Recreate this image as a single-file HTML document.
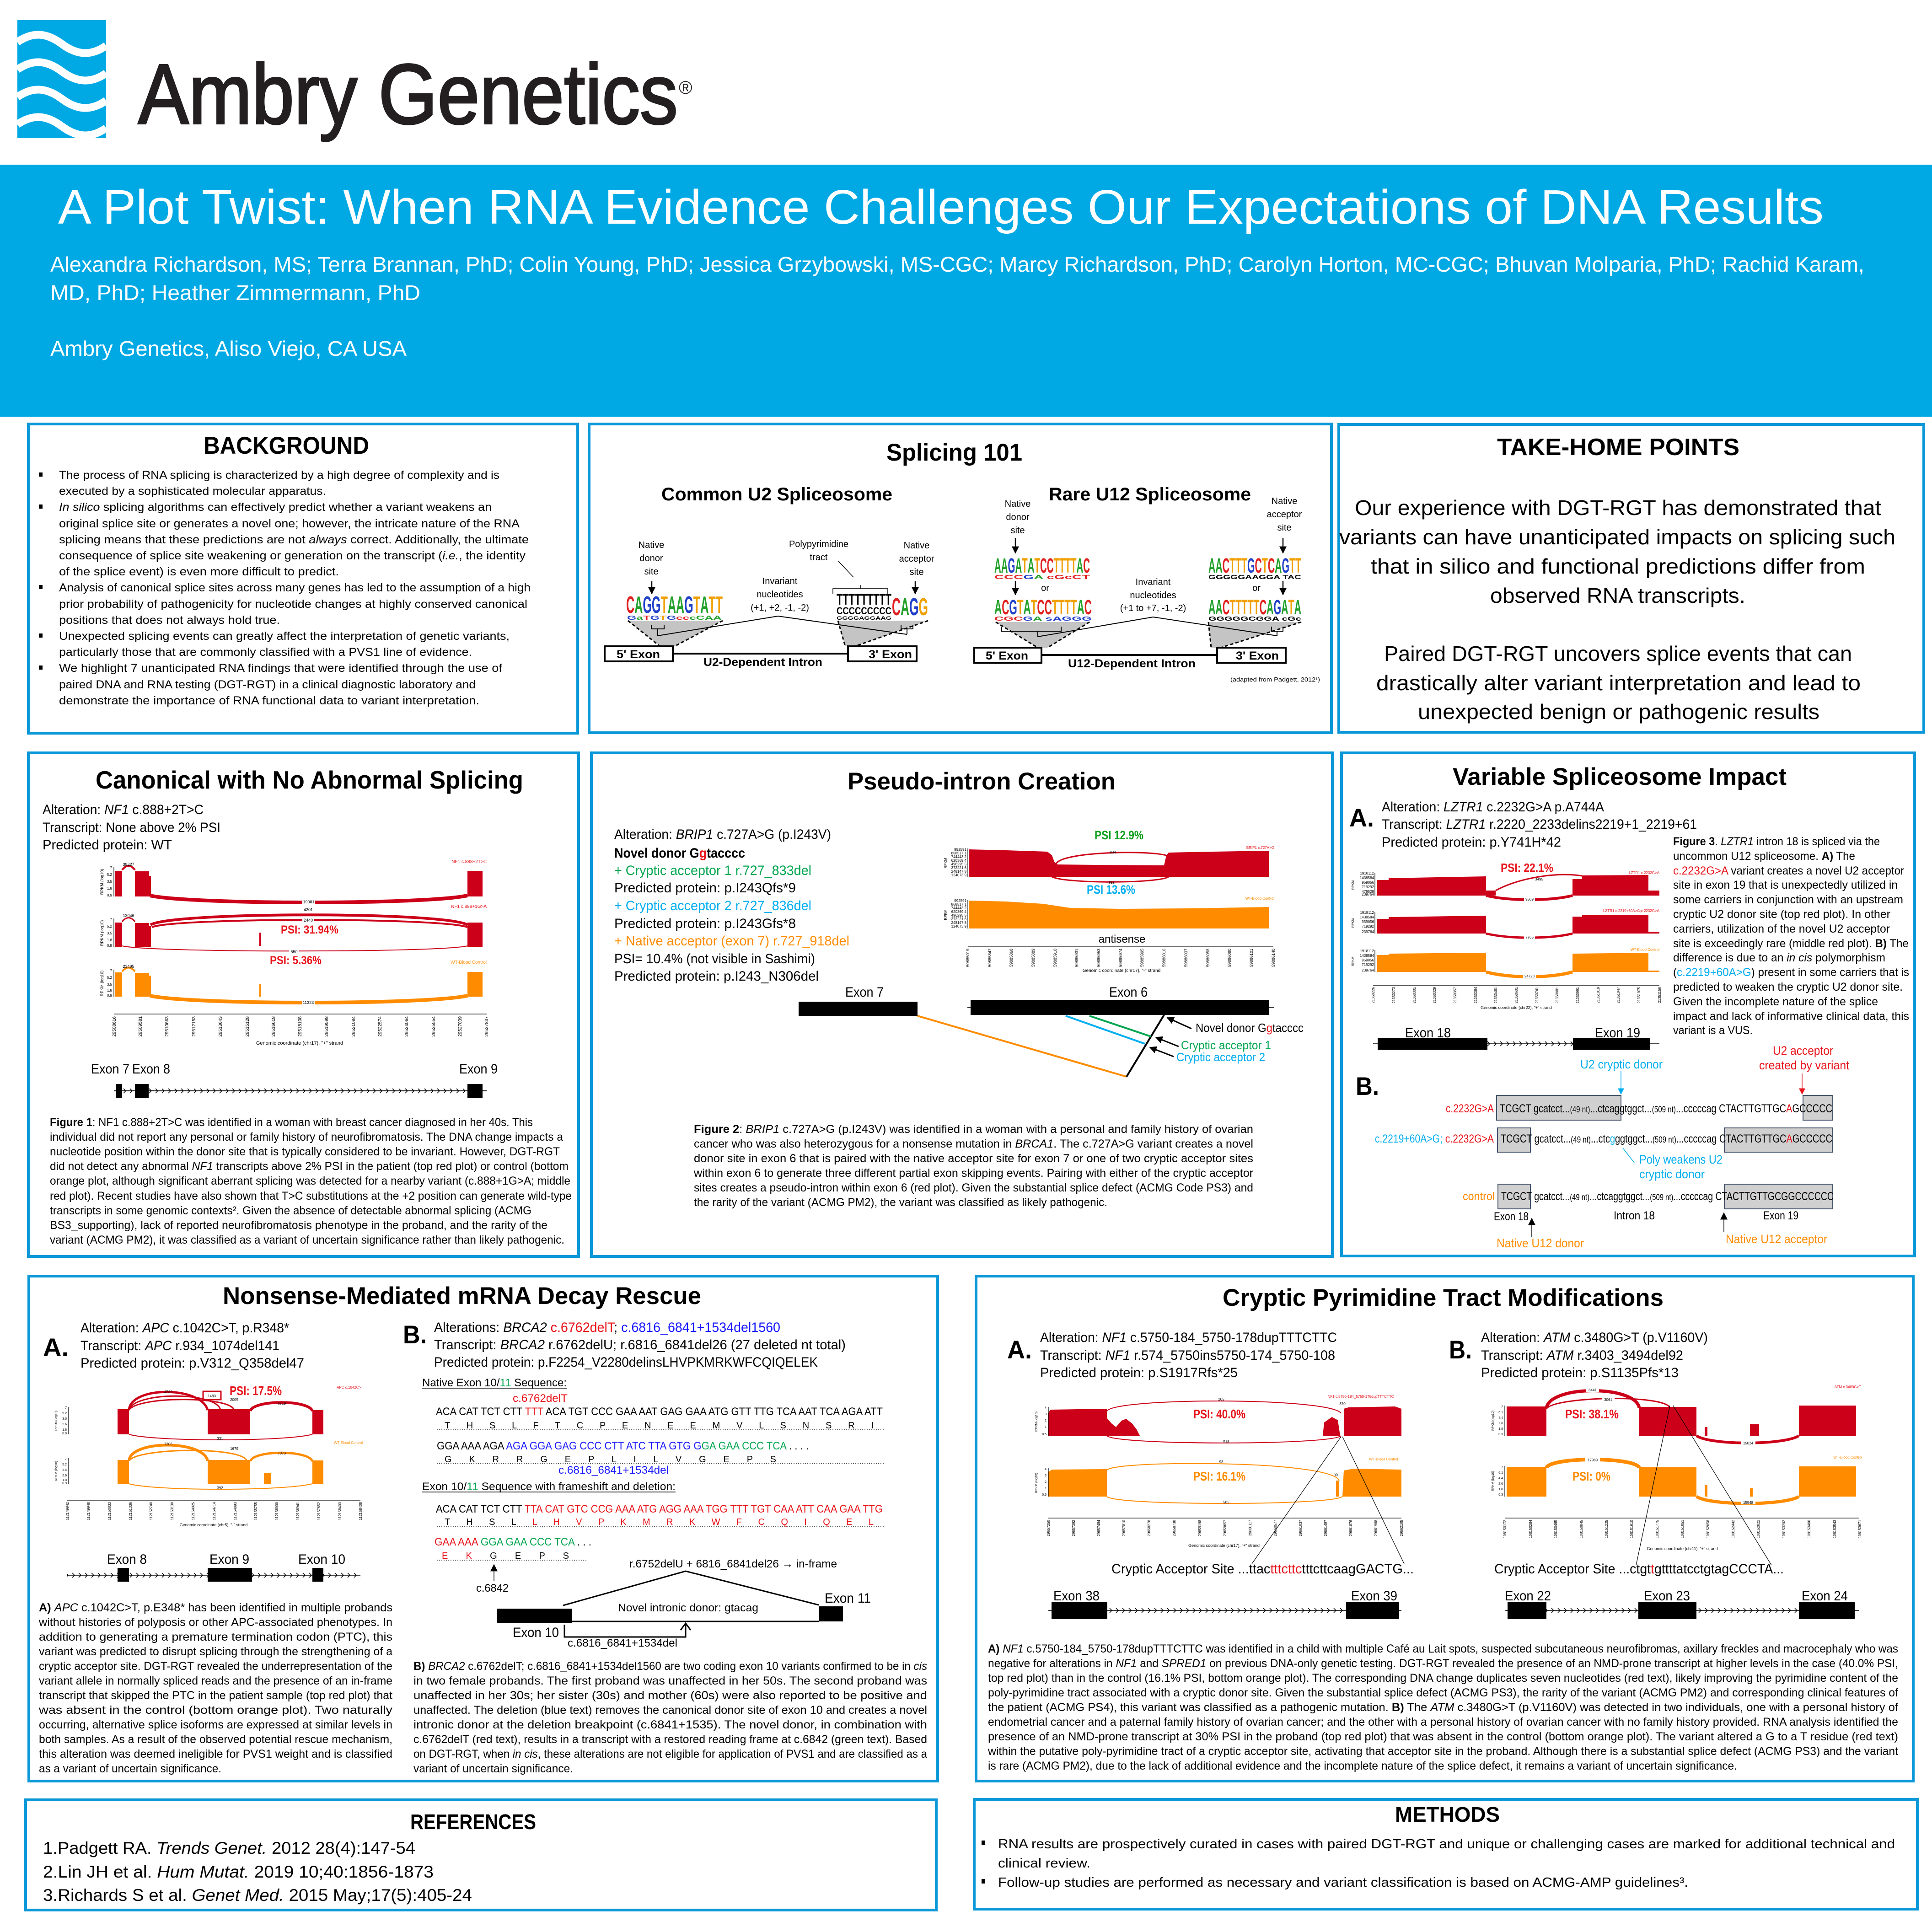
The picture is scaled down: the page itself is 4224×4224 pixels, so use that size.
<!DOCTYPE html>
<html><head><meta charset="utf-8">
<style>
html,body{margin:0;padding:0;background:#fff;overflow:hidden;width:4224px;height:4224px;}
svg{display:block;}
text{font-family:"Liberation Sans",Arial,sans-serif;fill:#000;}
.b{font-weight:bold;}
.i{font-style:italic;}
.w{fill:#fff;}
.r{fill:#cc0018;}
.o{fill:#ff8c00;}
.tr{fill:#e8141b;}
.tg{fill:#00a650;}
.tb{fill:#00aeef;}
.tB{fill:#1a1aff;}
.tk{font-size:9px;}
</style></head>
<body>
<svg xmlns="http://www.w3.org/2000/svg" width="4224" height="4224" viewBox="0 0 4224 4224">
<defs>
<pattern id="cv1" x="0" y="2379" width="14" height="12" patternUnits="userSpaceOnUse"><path d="M4,1 L9,6 L4,11" fill="none" stroke="#000" stroke-width="1.5"/></pattern>
<pattern id="cv2" x="0" y="2276" width="14" height="12" patternUnits="userSpaceOnUse"><path d="M4,1 L9,6 L4,11" fill="none" stroke="#000" stroke-width="1.5"/></pattern>
<pattern id="cv3" x="0" y="3438" width="14" height="12" patternUnits="userSpaceOnUse"><path d="M4,1 L9,6 L4,11" fill="none" stroke="#000" stroke-width="1.5"/></pattern>
<pattern id="cv4" x="0" y="3515" width="14" height="12" patternUnits="userSpaceOnUse"><path d="M4,1 L9,6 L4,11" fill="none" stroke="#000" stroke-width="1.5"/></pattern>
<marker id="ak" viewBox="0 0 10 10" refX="9" refY="5" markerWidth="16" markerHeight="16" markerUnits="userSpaceOnUse" orient="auto"><path d="M0,0 L10,5 L0,10 z" fill="#000"/></marker>
<marker id="ab" viewBox="0 0 10 10" refX="9" refY="5" markerWidth="14" markerHeight="14" markerUnits="userSpaceOnUse" orient="auto"><path d="M0,0 L10,5 L0,10 z" fill="#00aeef"/></marker>
<marker id="ar" viewBox="0 0 10 10" refX="9" refY="5" markerWidth="14" markerHeight="14" markerUnits="userSpaceOnUse" orient="auto"><path d="M0,0 L10,5 L0,10 z" fill="#e8141b"/></marker>
</defs>

<rect x="0" y="0" width="4224" height="4224" fill="#fff"/>

<!-- ===== HEADER ===== -->
<rect x="38" y="44" width="194" height="258" fill="#00a9e4"/>
<g fill="none" stroke="#fff" stroke-width="17">
<path d="M38,92 C70,70 100,70 135,96 S200,122 232,100"/>
<path d="M38,152 C70,130 100,130 135,156 S200,182 232,160"/>
<path d="M38,212 C70,190 100,190 135,216 S200,242 232,220"/>
<path d="M38,272 C70,250 100,250 135,276 S200,302 232,280"/>
</g>
<text x="302" y="270" font-size="186" style="fill:#231f20" stroke="#231f20" stroke-width="4" textLength="1180" lengthAdjust="spacingAndGlyphs">Ambry Genetics</text>
<text x="1484" y="205" font-size="40" style="fill:#231f20">®</text>

<rect x="0" y="360" width="4224" height="551" fill="#00a9e4"/>
<text class="w" x="127" y="489" font-size="106" textLength="3860" lengthAdjust="spacingAndGlyphs">A Plot Twist: When RNA Evidence Challenges Our Expectations of DNA Results</text>
<text class="w" x="110" y="594" font-size="46" textLength="3966" lengthAdjust="spacingAndGlyphs">Alexandra Richardson, MS; Terra Brannan, PhD; Colin Young, PhD; Jessica Grzybowski, MS-CGC; Marcy Richardson, PhD; Carolyn Horton, MC-CGC; Bhuvan Molparia, PhD; Rachid Karam,</text>
<text class="w" x="110" y="656" font-size="46" textLength="809" lengthAdjust="spacingAndGlyphs">MD, PhD; Heather Zimmermann, PhD</text>
<text class="w" x="110" y="778" font-size="46" textLength="779" lengthAdjust="spacingAndGlyphs">Ambry Genetics, Aliso Viejo, CA USA</text>

<!-- ===== PANEL BORDERS ===== -->
<g fill="none" stroke="#0a98d8" stroke-width="6">
<rect x="62" y="927" width="1201" height="676"/>
<rect x="1288" y="927" width="1623" height="675"/>
<rect x="2927" y="928" width="1279" height="673"/>
<rect x="62" y="1646" width="1203" height="1101"/>
<rect x="1293" y="1646" width="1620" height="1101"/>
<rect x="2933" y="1646" width="1253" height="1100"/>
<rect x="63" y="2790" width="1987" height="1104"/>
<rect x="2134" y="2790" width="2049" height="1104"/>
<rect x="56" y="3935" width="1991" height="241"/>
<rect x="2130" y="3934" width="2062" height="240"/>
</g>

<!-- ===== BACKGROUND ===== -->
<text class="b" x="445" y="992" font-size="53" textLength="362" lengthAdjust="spacingAndGlyphs">BACKGROUND</text>
<g fill="#000">
<rect x="85" y="1033" width="8" height="9"/>
<rect x="85" y="1103" width="8" height="9"/>
<rect x="85" y="1279" width="8" height="9"/>
<rect x="85" y="1385" width="8" height="9"/>
<rect x="85" y="1455" width="8" height="9"/>
</g>
<g font-size="25">
<text x="129" y="1047" textLength="963" lengthAdjust="spacingAndGlyphs">The process of RNA splicing is characterized by a high degree of complexity and is</text>
<text x="129" y="1082" textLength="584" lengthAdjust="spacingAndGlyphs">executed by a sophisticated molecular apparatus.</text>
<text x="129" y="1117" textLength="946" lengthAdjust="spacingAndGlyphs"><tspan class="i">In silico</tspan> splicing algorithms can effectively predict whether a variant weakens an</text>
<text x="129" y="1153" textLength="1007" lengthAdjust="spacingAndGlyphs">original splice site or generates a novel one; however, the intricate nature of the RNA</text>
<text x="129" y="1188" textLength="1027" lengthAdjust="spacingAndGlyphs">splicing means that these predictions are not <tspan class="i">always</tspan> correct. Additionally, the ultimate</text>
<text x="129" y="1223" textLength="1020" lengthAdjust="spacingAndGlyphs">consequence of splice site weakening or generation on the transcript (<tspan class="i">i.e.</tspan>, the identity</text>
<text x="129" y="1258" textLength="612" lengthAdjust="spacingAndGlyphs">of the splice event) is even more difficult to predict.</text>
<text x="129" y="1293" textLength="1031" lengthAdjust="spacingAndGlyphs">Analysis of canonical splice sites across many genes has led to the assumption of a high</text>
<text x="129" y="1329" textLength="1024" lengthAdjust="spacingAndGlyphs">prior probability of pathogenicity for nucleotide changes at highly conserved canonical</text>
<text x="129" y="1364" textLength="483" lengthAdjust="spacingAndGlyphs">positions that does not always hold true.</text>
<text x="129" y="1399" textLength="985" lengthAdjust="spacingAndGlyphs">Unexpected splicing events can greatly affect the interpretation of genetic variants,</text>
<text x="129" y="1434" textLength="903" lengthAdjust="spacingAndGlyphs">particularly those that are commonly classified with a PVS1 line of evidence.</text>
<text x="129" y="1469" textLength="969" lengthAdjust="spacingAndGlyphs">We highlight 7 unanticipated RNA findings that were identified through the use of</text>
<text x="129" y="1505" textLength="911" lengthAdjust="spacingAndGlyphs">paired DNA and RNA testing (DGT-RGT) in a clinical diagnostic laboratory and</text>
<text x="129" y="1540" textLength="919" lengthAdjust="spacingAndGlyphs">demonstrate the importance of RNA functional data to variant interpretation.</text>
</g>

<!-- ===== SPLICING 101 ===== -->
<text class="b" x="1938" y="1007" font-size="53" textLength="297" lengthAdjust="spacingAndGlyphs">Splicing 101</text>
<text class="b" x="1446" y="1094" font-size="40" textLength="505" lengthAdjust="spacingAndGlyphs">Common U2 Spliceosome</text>
<text class="b" x="2293" y="1094" font-size="40" textLength="442" lengthAdjust="spacingAndGlyphs">Rare U12 Spliceosome</text>
<g font-size="20" text-anchor="middle">
<text x="1424" y="1198">Native</text><text x="1424" y="1227">donor</text><text x="1424" y="1256">site</text>
<text x="1790" y="1196">Polypyrimidine</text><text x="1790" y="1225">tract</text>
<text x="2004" y="1199">Native</text><text x="2004" y="1228">acceptor</text><text x="2004" y="1257">site</text>
<text x="1705" y="1277">Invariant</text><text x="1705" y="1306">nucleotides</text><text x="1705" y="1335">(+1, +2, -1, -2)</text>
<text x="2225" y="1108">Native</text><text x="2225" y="1137">donor</text><text x="2225" y="1166">site</text>
<text x="2808" y="1102">Native</text><text x="2808" y="1131">acceptor</text><text x="2808" y="1160">site</text>
<text x="2521" y="1279">Invariant</text><text x="2521" y="1308">nucleotides</text><text x="2521" y="1336">(+1 to +7, -1, -2)</text>
<text x="2285" y="1292">or</text><text x="2747" y="1292">or</text>
</g>
<g stroke="#000" stroke-width="2.5" fill="none">
<line x1="1425" y1="1271" x2="1425" y2="1298" marker-end="url(#ak)"/>
<line x1="2001" y1="1271" x2="2001" y2="1298" marker-end="url(#ak)"/>
<line x1="1833" y1="1227" x2="1866" y2="1262" stroke-width="1.5"/>
<path d="M1821,1298 L1821,1287 L1941,1287 L1941,1298 M1881,1287 L1881,1279" stroke-width="1.5"/>
<line x1="2220" y1="1176" x2="2220" y2="1209" marker-end="url(#ak)"/>
<line x1="2220" y1="1270" x2="2220" y2="1300" marker-end="url(#ak)"/>
<line x1="2805" y1="1176" x2="2805" y2="1209" marker-end="url(#ak)"/>
<line x1="2805" y1="1270" x2="2805" y2="1300" marker-end="url(#ak)"/>
</g>
<g fill="#c4c4c4">
<polygon points="1373,1357 1580,1357 1475,1413 1443,1413"/>
<polygon points="1832,1357 2029,1357 1869,1413 1848,1413"/>
<polygon points="2177,1360 2382,1360 2290,1416 2269,1416"/>
<polygon points="2642,1360 2845,1360 2669,1416 2648,1416"/>
</g>
<g stroke="#000" stroke-width="3" stroke-dasharray="7,5" fill="none">
<line x1="1373" y1="1357" x2="1443" y2="1413"/><line x1="1580" y1="1357" x2="1475" y2="1413"/>
<line x1="1832" y1="1357" x2="1848" y2="1413"/><line x1="2029" y1="1357" x2="1869" y2="1413"/>
<line x1="2177" y1="1360" x2="2269" y2="1416"/><line x1="2382" y1="1360" x2="2290" y2="1416"/>
<line x1="2642" y1="1360" x2="2648" y2="1416"/><line x1="2845" y1="1360" x2="2669" y2="1416"/>
</g>
<g stroke="#000" stroke-width="2" fill="none">
<polyline points="1438,1390 1701,1347 1983,1387"/>
<polyline points="2269,1392 2521,1349 2792,1390"/>
<path d="M1424,1367 L1424,1375 L1438,1375 L1438,1390 M1438,1375 L1452,1375 L1452,1367"/>
<path d="M1970,1367 L1970,1375 L1983,1375 L1983,1387 M1983,1375 L1996,1375 L1996,1367"/>
<path d="M2190,1370 L2190,1380 L2269,1380 L2269,1392 M2269,1380 L2320,1380 L2320,1370"/>
<path d="M2780,1370 L2780,1380 L2792,1380 L2792,1390 M2792,1380 L2805,1380 L2805,1370"/>
</g>
<g font-weight="bold">
<g transform="translate(1369,1340) scale(1,1.3)"><text font-size="40" textLength="211" lengthAdjust="spacingAndGlyphs"><tspan fill="#e02020">C</tspan><tspan fill="#22a02a">A</tspan><tspan fill="#2040c8">GG</tspan><tspan fill="#f0a000">T</tspan><tspan fill="#22a02a">AA</tspan><tspan fill="#2040c8">G</tspan><tspan fill="#f0a000">T</tspan><tspan fill="#22a02a">A</tspan><tspan fill="#f0a000">TT</tspan></text></g>
<text x="1371" y="1355" font-size="13" textLength="207" lengthAdjust="spacingAndGlyphs"><tspan fill="#2040c8">G</tspan><tspan fill="#22a02a">a</tspan><tspan fill="#e02020">T</tspan><tspan fill="#2040c8">G</tspan><tspan fill="#f0a000">T</tspan><tspan fill="#2040c8">G</tspan><tspan fill="#e02020">cc</tspan><tspan fill="#22a02a">cCAA</tspan></text>
<text x="1829" y="1322" font-size="34" textLength="120" lengthAdjust="spacingAndGlyphs" fill="#f0a000">TTTTTTTTT</text>
<text x="1829" y="1343" font-size="22" textLength="120" lengthAdjust="spacingAndGlyphs" fill="#e02020">CCCCCCCCC</text>
<text x="1829" y="1355" font-size="11" textLength="120" lengthAdjust="spacingAndGlyphs" fill="#2040c8">GGGGAGGAAG</text>
<g transform="translate(1950,1345) scale(1,1.35)"><text font-size="40" textLength="79" lengthAdjust="spacingAndGlyphs"><tspan fill="#e02020">C</tspan><tspan fill="#22a02a">A</tspan><tspan fill="#2040c8">G</tspan><tspan fill="#f0a000">G</tspan></text></g>
<g transform="translate(2174,1252) scale(1,1.2)"><text font-size="38" textLength="209" lengthAdjust="spacingAndGlyphs"><tspan fill="#22a02a">AA</tspan><tspan fill="#2040c8">G</tspan><tspan fill="#22a02a">A</tspan><tspan fill="#f0a000">T</tspan><tspan fill="#22a02a">A</tspan><tspan fill="#f0a000">T</tspan><tspan fill="#e02020">CC</tspan><tspan fill="#f0a000">TTTT</tspan><tspan fill="#22a02a">A</tspan><tspan fill="#e02020">C</tspan></text></g>
<text x="2174" y="1266" font-size="13" textLength="209" lengthAdjust="spacingAndGlyphs"><tspan fill="#e02020">CCC</tspan><tspan fill="#2040c8">G</tspan><tspan fill="#22a02a">A</tspan><tspan fill="#e02020">  cGcCT</tspan></text>
<g transform="translate(2174,1343) scale(1,1.2)"><text font-size="38" textLength="213" lengthAdjust="spacingAndGlyphs"><tspan fill="#22a02a">A</tspan><tspan fill="#e02020">C</tspan><tspan fill="#2040c8">G</tspan><tspan fill="#f0a000">T</tspan><tspan fill="#22a02a">A</tspan><tspan fill="#f0a000">T</tspan><tspan fill="#e02020">CC</tspan><tspan fill="#f0a000">TTTT</tspan><tspan fill="#22a02a">A</tspan><tspan fill="#e02020">C</tspan></text></g>
<text x="2174" y="1357" font-size="13" textLength="213" lengthAdjust="spacingAndGlyphs"><tspan fill="#e02020">CGC</tspan><tspan fill="#2040c8">G</tspan><tspan fill="#22a02a">A</tspan><tspan fill="#2040c8">  sAGGG</tspan></text>
<g transform="translate(2642,1252) scale(1,1.2)"><text font-size="38" textLength="203" lengthAdjust="spacingAndGlyphs"><tspan fill="#22a02a">AA</tspan><tspan fill="#e02020">C</tspan><tspan fill="#f0a000">TTT</tspan><tspan fill="#2040c8">G</tspan><tspan fill="#e02020">C</tspan><tspan fill="#f0a000">T</tspan><tspan fill="#e02020">C</tspan><tspan fill="#22a02a">A</tspan><tspan fill="#2040c8">G</tspan><tspan fill="#f0a000">TT</tspan></text></g>
<text x="2642" y="1266" font-size="13" textLength="203" lengthAdjust="spacingAndGlyphs" fill="#2040c8">GGGGGAAGGA TAC</text>
<g transform="translate(2642,1343) scale(1,1.2)"><text font-size="38" textLength="203" lengthAdjust="spacingAndGlyphs"><tspan fill="#22a02a">AA</tspan><tspan fill="#e02020">C</tspan><tspan fill="#f0a000">TTTTT</tspan><tspan fill="#e02020">C</tspan><tspan fill="#22a02a">A</tspan><tspan fill="#2040c8">G</tspan><tspan fill="#22a02a">A</tspan><tspan fill="#f0a000">T</tspan><tspan fill="#22a02a">A</tspan></text></g>
<text x="2642" y="1357" font-size="13" textLength="203" lengthAdjust="spacingAndGlyphs" fill="#2040c8">GGGGGCGGA  cGc</text>
</g>
<g stroke="#000" stroke-width="4" fill="#fff">
<rect x="1322" y="1413" width="149" height="33"/>
<rect x="1854" y="1413" width="150" height="33"/>
<rect x="2130" y="1416" width="147" height="33"/>
<rect x="2661" y="1416" width="150" height="33"/>
</g>
<g stroke="#000" stroke-width="4">
<line x1="1471" y1="1429" x2="1854" y2="1429"/>
<line x1="2277" y1="1432" x2="2661" y2="1432"/>
</g>
<g class="b" font-size="25">
<text x="1348" y="1439" textLength="95" lengthAdjust="spacingAndGlyphs">5' Exon</text>
<text x="1899" y="1439" textLength="95" lengthAdjust="spacingAndGlyphs">3' Exon</text>
<text x="2155" y="1442" textLength="93" lengthAdjust="spacingAndGlyphs">5' Exon</text>
<text x="2702" y="1442" textLength="94" lengthAdjust="spacingAndGlyphs">3' Exon</text>
<text x="1538" y="1456" textLength="260" lengthAdjust="spacingAndGlyphs">U2-Dependent Intron</text>
<text x="2335" y="1459" textLength="279" lengthAdjust="spacingAndGlyphs">U12-Dependent Intron</text>
</g>
<text x="2690" y="1490" font-size="13" textLength="196" lengthAdjust="spacingAndGlyphs">(adapted from Padgett, 2012¹)</text>

<!-- ===== TAKE-HOME ===== -->
<text class="b" x="3273" y="995" font-size="52" textLength="530" lengthAdjust="spacingAndGlyphs">TAKE-HOME POINTS</text>
<g font-size="46">
<text x="2962" y="1126" textLength="1151" lengthAdjust="spacingAndGlyphs">Our experience with DGT-RGT has demonstrated that</text>
<text x="2928" y="1190" textLength="1216" lengthAdjust="spacingAndGlyphs">variants can have unanticipated impacts on splicing such</text>
<text x="2997" y="1254" textLength="1081" lengthAdjust="spacingAndGlyphs">that in silico and functional predictions differ from</text>
<text x="3258" y="1318" textLength="558" lengthAdjust="spacingAndGlyphs">observed RNA transcripts.</text>
<text x="3026" y="1445" textLength="1023" lengthAdjust="spacingAndGlyphs">Paired DGT-RGT uncovers splice events that can</text>
<text x="3009" y="1509" textLength="1059" lengthAdjust="spacingAndGlyphs">drastically alter variant interpretation and lead to</text>
<text x="3100" y="1572" textLength="878" lengthAdjust="spacingAndGlyphs">unexpected benign or pathogenic results</text>
</g>

<!-- ===== CANONICAL ===== -->
<text class="b" x="209" y="1724" font-size="55" textLength="935" lengthAdjust="spacingAndGlyphs">Canonical with No Abnormal Splicing</text>
<g font-size="30">
<text x="93" y="1780" textLength="352" lengthAdjust="spacingAndGlyphs">Alteration: <tspan class="i">NF1</tspan> c.888+2T&gt;C</text>
<text x="93" y="1819" textLength="389" lengthAdjust="spacingAndGlyphs">Transcript: None above 2% PSI</text>
<text x="93" y="1857" textLength="283" lengthAdjust="spacingAndGlyphs">Predicted protein: WT</text>
</g>
<g fill="#cc0018">
<rect x="252" y="1904" width="15" height="56"/><rect x="295" y="1905" width="31" height="55"/><rect x="326" y="1915" width="4" height="45"/><rect x="1022" y="1904" width="33" height="56"/>
<rect x="252" y="2017" width="15" height="53"/><rect x="295" y="2018" width="31" height="52"/><rect x="326" y="2025" width="4" height="45"/><rect x="1022" y="2017" width="33" height="53"/>
<rect x="567" y="2039" width="4" height="29"/>
</g>
<g fill="#ff8c00">
<rect x="252" y="2126" width="15" height="53"/><rect x="295" y="2127" width="31" height="52"/><rect x="326" y="2133" width="4" height="46"/><rect x="1022" y="2125" width="33" height="54"/>
<rect x="567" y="2151" width="4" height="28"/>
</g>
<g fill="none" stroke="#cc0018">
<path d="M267,1902 Q281,1884 295,1902" stroke-width="4"/>
<path d="M328,1958 C420,1978 930,1978 1022,1958" stroke-width="8"/>
<path d="M267,2015 Q281,1998 295,2015" stroke-width="3"/>
<path d="M329,2022 C380,1993 970,1993 1022,2022" stroke-width="6"/>
<path d="M332,2027 C390,2006 960,2006 1022,2027" stroke-width="4"/>
<path d="M267,2068 C330,2083 960,2083 1022,2068" stroke-width="2"/>
</g>
<g fill="none" stroke="#ff8c00">
<path d="M267,2124 Q281,2107 295,2124" stroke-width="4"/>
<path d="M328,2177 C420,2197 930,2197 1022,2177" stroke-width="8"/>
</g>
<g font-size="9" text-anchor="middle">
<rect x="661" y="1966" width="28" height="11" fill="#fff"/><text x="675" y="1975">19081</text>
<text x="281" y="1893">38327</text><text x="281" y="2005">13046</text><text x="281" y="2116">23495</text>
<rect x="661" y="1983" width="26" height="10" fill="#fff"/><text x="674" y="1992">4201</text>
<rect x="661" y="2006" width="26" height="10" fill="#fff"/><text x="674" y="2015">2440</text>
<rect x="632" y="2076" width="22" height="10" fill="#fff"/><text x="643" y="2084">550</text>
<rect x="660" y="2186" width="28" height="11" fill="#fff"/><text x="674" y="2195">11323</text>
</g>
<g font-size="10" text-anchor="end">
<text x="1064" y="1887" class="tr">NF1 c.888+2T&gt;C</text>
<text x="1064" y="1985" class="tr">NF1 c.888+1G&gt;A</text>
<text x="1064" y="2107" class="o">WT-Blood Control</text>
</g>
<text class="b tr" x="614" y="2041" font-size="25" textLength="126" lengthAdjust="spacingAndGlyphs">PSI: 31.94%</text>
<text class="b tr" x="590" y="2108" font-size="25" textLength="113" lengthAdjust="spacingAndGlyphs">PSI: 5.36%</text>
<g stroke="#000" stroke-width="1.2">
<line x1="249" y1="1895" x2="249" y2="1960"/><line x1="249" y1="2008" x2="249" y2="2070"/><line x1="249" y1="2120" x2="249" y2="2179"/>
<line x1="249" y1="2217" x2="1064" y2="2217"/>
</g>
<g font-size="8" text-anchor="end">
<text x="245" y="1900">7</text><text x="245" y="1915">5.2</text><text x="245" y="1930">3.5</text><text x="245" y="1945">1.8</text><text x="245" y="1960">0.9</text>
<text x="245" y="2013">7</text><text x="245" y="2028">5.2</text><text x="245" y="2043">3.5</text><text x="245" y="2058">1.8</text><text x="245" y="2070">0.9</text>
<text x="245" y="2125">7</text><text x="245" y="2140">5.2</text><text x="245" y="2155">3.5</text><text x="245" y="2168">1.8</text><text x="245" y="2179">0.9</text>
</g>
<g font-size="9" text-anchor="middle">
<text transform="translate(226,1928) rotate(-90)">RPKM (log10)</text>
<text transform="translate(226,2040) rotate(-90)">RPKM (log10)</text>
<text transform="translate(226,2150) rotate(-90)">RPKM (log10)</text>
</g>
<g font-size="10" text-anchor="end">
<text transform="translate(253,2222) rotate(-90)">29508616</text>
<text transform="translate(310,2222) rotate(-90)">29509581</text>
<text transform="translate(368,2222) rotate(-90)">29510663</text>
<text transform="translate(427,2222) rotate(-90)">29512153</text>
<text transform="translate(485,2222) rotate(-90)">29513643</text>
<text transform="translate(544,2222) rotate(-90)">29515128</text>
<text transform="translate(601,2222) rotate(-90)">29516618</text>
<text transform="translate(659,2222) rotate(-90)">29518108</text>
<text transform="translate(717,2222) rotate(-90)">29519598</text>
<text transform="translate(776,2222) rotate(-90)">29521084</text>
<text transform="translate(834,2222) rotate(-90)">29522574</text>
<text transform="translate(892,2222) rotate(-90)">29524064</text>
<text transform="translate(951,2222) rotate(-90)">29525554</text>
<text transform="translate(1009,2222) rotate(-90)">29527039</text>
<text transform="translate(1067,2222) rotate(-90)">29527837</text>
</g>
<text x="655" y="2284" font-size="11" text-anchor="middle">Genomic coordinate (chr17), "+" strand</text>
<g font-size="30">
<text x="199" y="2347" textLength="84" lengthAdjust="spacingAndGlyphs">Exon 7</text>
<text x="289" y="2347" textLength="83" lengthAdjust="spacingAndGlyphs">Exon 8</text>
<text x="1004" y="2347" textLength="84" lengthAdjust="spacingAndGlyphs">Exon 9</text>
</g>
<line x1="249" y1="2385" x2="1064" y2="2385" stroke="#000" stroke-width="2"/>
<rect x="267" y="2379" width="755" height="12" fill="url(#cv1)"/>
<g fill="#000"><rect x="253" y="2370" width="14" height="30"/><rect x="295" y="2370" width="30" height="30"/><rect x="1022" y="2370" width="33" height="30"/></g>
<g font-size="25">
<text x="109" y="2462" textLength="1056" lengthAdjust="spacingAndGlyphs"><tspan class="b">Figure 1</tspan>: NF1 c.888+2T&gt;C was identified in a woman with breast cancer diagnosed in her 40s. This</text>
<text x="109" y="2494" textLength="1122" lengthAdjust="spacingAndGlyphs">individual did not report any personal or family history of neurofibromatosis. The DNA change impacts a</text>
<text x="109" y="2526" textLength="1115" lengthAdjust="spacingAndGlyphs">nucleotide position within the donor site that is typically considered to be invariant. However, DGT-RGT</text>
<text x="109" y="2558" textLength="1134" lengthAdjust="spacingAndGlyphs">did not detect any abnormal <tspan class="i">NF1</tspan> transcripts above 2% PSI in the patient (top red plot) or control (bottom</text>
<text x="109" y="2590" textLength="1138" lengthAdjust="spacingAndGlyphs">orange plot, although significant aberrant splicing was detected for a nearby variant (c.888+1G&gt;A; middle</text>
<text x="109" y="2623" textLength="1141" lengthAdjust="spacingAndGlyphs">red plot). Recent studies have also shown that T&gt;C substitutions at the +2 position can generate wild-type</text>
<text x="109" y="2655" textLength="1053" lengthAdjust="spacingAndGlyphs">transcripts in some genomic contexts². Given the absence of detectable abnormal splicing (ACMG</text>
<text x="109" y="2687" textLength="1088" lengthAdjust="spacingAndGlyphs">BS3_supporting), lack of reported neurofibromatosis phenotype in the proband, and the rarity of the</text>
<text x="109" y="2719" textLength="1125" lengthAdjust="spacingAndGlyphs">variant (ACMG PM2), it was classified as a variant of uncertain significance rather than likely pathogenic.</text>
</g>

<!-- ===== PSEUDO-INTRON ===== -->
<text class="b" x="1853" y="1726" font-size="53" textLength="586" lengthAdjust="spacingAndGlyphs">Pseudo-intron Creation</text>
<g font-size="30">
<text x="1343" y="1834" textLength="474" lengthAdjust="spacingAndGlyphs">Alteration: <tspan class="i">BRIP1</tspan> c.727A&gt;G (p.I243V)</text>
<text x="1343" y="1875" class="b" textLength="286" lengthAdjust="spacingAndGlyphs">Novel donor G<tspan class="tr">g</tspan>tacccc</text>
<text x="1343" y="1913" class="tg" textLength="431" lengthAdjust="spacingAndGlyphs">+ Cryptic acceptor 1 r.727_833del</text>
<text x="1343" y="1951" textLength="397" lengthAdjust="spacingAndGlyphs">Predicted protein: p.I243Qfs*9</text>
<text x="1343" y="1990" class="tb" textLength="431" lengthAdjust="spacingAndGlyphs">+ Cryptic acceptor 2 r.727_836del</text>
<text x="1343" y="2029" textLength="397" lengthAdjust="spacingAndGlyphs">Predicted protein: p.I243Gfs*8</text>
<text x="1343" y="2067" class="o" textLength="514" lengthAdjust="spacingAndGlyphs">+ Native acceptor (exon 7) r.727_918del</text>
<text x="1343" y="2106" textLength="439" lengthAdjust="spacingAndGlyphs">PSI= 10.4% (not visible in Sashimi)</text>
<text x="1343" y="2144" textLength="447" lengthAdjust="spacingAndGlyphs">Predicted protein: p.I243_N306del</text>
</g>
<text class="b" x="2393" y="1835" font-size="27" style="fill:#10a020" textLength="107" lengthAdjust="spacingAndGlyphs">PSI 12.9%</text>
<polygon fill="#cc0018" points="2118,1917 2118,1857 2200,1859 2290,1862 2300,1870 2305,1884 2312,1890 2400,1891 2545,1892 2550,1870 2555,1864 2650,1862 2774,1860 2774,1917"/>
<g fill="none" stroke="#cc0018" stroke-width="3">
<path d="M2309,1889 C2320,1860 2540,1858 2555,1873"/>
<path d="M2300,1917 C2330,1932 2530,1932 2555,1917"/>
</g>
<text x="2433" y="1866" font-size="8" text-anchor="middle">934</text>
<text x="2430" y="1932" font-size="8" text-anchor="middle">992</text>
<text class="b tb" x="2376" y="1954" font-size="27" textLength="106" lengthAdjust="spacingAndGlyphs">PSI 13.6%</text>
<polygon fill="#ff8c00" points="2118,2030 2118,1969 2200,1971 2280,1976 2340,1985 2450,1987 2600,1986 2774,1983 2774,2030"/>
<g font-size="8" text-anchor="end">
<text x="2786" y="1856" class="tr">BRIP1 c.727A&gt;G</text>
<text x="2786" y="1967" class="o">WT-Blood Control</text>
<text x="2113" y="1860">992591</text><text x="2113" y="1868">868517.1</text><text x="2113" y="1876">744443.2</text><text x="2113" y="1884">620369.4</text><text x="2113" y="1892">496295.5</text><text x="2113" y="1900">372221.6</text><text x="2113" y="1908">248147.8</text><text x="2113" y="1916">124073.9</text>
<text x="2113" y="1972">992591</text><text x="2113" y="1980">868517.1</text><text x="2113" y="1988">744443.2</text><text x="2113" y="1996">620369.4</text><text x="2113" y="2004">496295.5</text><text x="2113" y="2012">372221.6</text><text x="2113" y="2020">248147.8</text><text x="2113" y="2028">124073.9</text>
</g>
<g font-size="8" text-anchor="middle">
<text transform="translate(2070,1887) rotate(-90)">RPKM</text>
<text transform="translate(2070,2000) rotate(-90)">RPKM</text>
</g>
<g stroke="#000" stroke-width="1.2">
<line x1="2116" y1="1855" x2="2116" y2="1917"/><line x1="2116" y1="1968" x2="2116" y2="2030"/>
<line x1="2116" y1="2070" x2="2784" y2="2070"/>
</g>
<text x="2453" y="2061" font-size="24" text-anchor="middle">antisense</text>
<g font-size="9" text-anchor="end">
<text transform="translate(2119,2074) rotate(-90)">59885019</text>
<text transform="translate(2167,2074) rotate(-90)">59885847</text>
<text transform="translate(2214,2074) rotate(-90)">59885868</text>
<text transform="translate(2262,2074) rotate(-90)">59885889</text>
<text transform="translate(2310,2074) rotate(-90)">59885910</text>
<text transform="translate(2357,2074) rotate(-90)">59885931</text>
<text transform="translate(2405,2074) rotate(-90)">59885953</text>
<text transform="translate(2453,2074) rotate(-90)">59885974</text>
<text transform="translate(2500,2074) rotate(-90)">59885995</text>
<text transform="translate(2548,2074) rotate(-90)">59886016</text>
<text transform="translate(2596,2074) rotate(-90)">59886037</text>
<text transform="translate(2644,2074) rotate(-90)">59886058</text>
<text transform="translate(2691,2074) rotate(-90)">59886080</text>
<text transform="translate(2739,2074) rotate(-90)">59886101</text>
<text transform="translate(2787,2074) rotate(-90)">59886140</text>
</g>
<text x="2452" y="2125" font-size="10" text-anchor="middle">Genomic coordinate (chr17), "-" strand</text>
<g font-size="30">
<text x="1848" y="2179" textLength="84" lengthAdjust="spacingAndGlyphs">Exon 7</text>
<text x="2425" y="2179" textLength="84" lengthAdjust="spacingAndGlyphs">Exon 6</text>
</g>
<line x1="2115" y1="2203" x2="2786" y2="2203" stroke="#000" stroke-width="1.5"/>
<rect x="1746" y="2190" width="260" height="31" fill="#000"/>
<rect x="2122" y="2186" width="652" height="33" fill="#000"/>
<g stroke-width="4" fill="none">
<line x1="2006" y1="2221" x2="2463" y2="2354" stroke="#ff8c00"/>
<line x1="2463" y1="2354" x2="2545" y2="2219" stroke="#000"/>
<line x1="2382" y1="2221" x2="2516" y2="2266" stroke="#00a650"/>
<line x1="2330" y1="2221" x2="2503" y2="2282" stroke="#00aeef"/>
<line x1="2605" y1="2249" x2="2552" y2="2225" stroke="#000" stroke-width="3" marker-end="url(#ak)"/>
<line x1="2577" y1="2288" x2="2527" y2="2268" stroke="#000" stroke-width="3" marker-end="url(#ak)"/>
<line x1="2566" y1="2310" x2="2514" y2="2290" stroke="#000" stroke-width="3" marker-end="url(#ak)"/>
</g>
<g font-size="26">
<text x="2614" y="2256" textLength="236" lengthAdjust="spacingAndGlyphs">Novel donor G<tspan class="tr">g</tspan>tacccc</text>
<text x="2582" y="2294" class="tg" textLength="197" lengthAdjust="spacingAndGlyphs">Cryptic acceptor 1</text>
<text x="2572" y="2320" class="tb" textLength="194" lengthAdjust="spacingAndGlyphs">Cryptic acceptor 2</text>
</g>
<g font-size="25">
<text x="1517" y="2477" textLength="1223" lengthAdjust="spacingAndGlyphs"><tspan class="b">Figure 2</tspan>: <tspan class="i">BRIP1</tspan> c.727A&gt;G (p.I243V) was identified in a woman with a personal and family history of ovarian</text>
<text x="1517" y="2509" textLength="1223" lengthAdjust="spacingAndGlyphs">cancer who was also heterozygous for a nonsense mutation in <tspan class="i">BRCA1</tspan>. The c.727A&gt;G variant creates a novel</text>
<text x="1517" y="2541" textLength="1223" lengthAdjust="spacingAndGlyphs">donor site in exon 6 that is paired with the native acceptor site for exon 7 or one of two cryptic acceptor sites</text>
<text x="1517" y="2573" textLength="1223" lengthAdjust="spacingAndGlyphs">within exon 6 to generate three different partial exon skipping events. Pairing with either of the cryptic acceptor</text>
<text x="1517" y="2605" textLength="1223" lengthAdjust="spacingAndGlyphs">sites creates a pseudo-intron within exon 6 (red plot). Given the substantial splice defect (ACMG Code PS3) and</text>
<text x="1517" y="2637" textLength="904" lengthAdjust="spacingAndGlyphs">the rarity of the variant (ACMG PM2), the variant was classified as likely pathogenic.</text>
</g>

<!-- ===== VARIABLE SPLICEOSOME ===== -->
<text class="b" x="3176" y="1716" font-size="53" textLength="730" lengthAdjust="spacingAndGlyphs">Variable Spliceosome Impact</text>
<text class="b" x="2950" y="1807" font-size="56" textLength="54" lengthAdjust="spacingAndGlyphs">A.</text>
<g font-size="30">
<text x="3021" y="1774" textLength="486" lengthAdjust="spacingAndGlyphs">Alteration: <tspan class="i">LZTR1</tspan> c.2232G&gt;A p.A744A</text>
<text x="3021" y="1812" textLength="689" lengthAdjust="spacingAndGlyphs">Transcript: <tspan class="i">LZTR1</tspan> r.2220_2233delins2219+1_2219+61</text>
<text x="3021" y="1851" textLength="392" lengthAdjust="spacingAndGlyphs">Predicted protein: p.Y741H*42</text>
</g>
<g font-size="25">
<text x="3658" y="1848" textLength="452" lengthAdjust="spacingAndGlyphs"><tspan class="b">Figure 3</tspan>. <tspan class="i">LZTR1</tspan> intron 18 is spliced via the</text>
<text x="3658" y="1880" textLength="398" lengthAdjust="spacingAndGlyphs">uncommon U12 spliceosome. <tspan class="b">A)</tspan> The</text>
<text x="3658" y="1912" textLength="505" lengthAdjust="spacingAndGlyphs"><tspan class="tr">c.2232G&gt;A</tspan> variant creates a novel U2 acceptor</text>
<text x="3658" y="1943" textLength="491" lengthAdjust="spacingAndGlyphs">site in exon 19 that is unexpectedly utilized in</text>
<text x="3658" y="1975" textLength="503" lengthAdjust="spacingAndGlyphs">some carriers in conjunction with an upstream</text>
<text x="3658" y="2007" textLength="475" lengthAdjust="spacingAndGlyphs">cryptic U2 donor site (top red plot). In other</text>
<text x="3658" y="2039" textLength="474" lengthAdjust="spacingAndGlyphs">carriers, utilization of the novel U2 acceptor</text>
<text x="3658" y="2071" textLength="515" lengthAdjust="spacingAndGlyphs">site is exceedingly rare (middle red plot). <tspan class="b">B)</tspan> The</text>
<text x="3658" y="2102" textLength="464" lengthAdjust="spacingAndGlyphs">difference is due to an <tspan class="i">in cis</tspan> polymorphism</text>
<text x="3658" y="2134" textLength="516" lengthAdjust="spacingAndGlyphs">(<tspan class="tb">c.2219+60A&gt;G</tspan>) present in some carriers that is</text>
<text x="3658" y="2166" textLength="502" lengthAdjust="spacingAndGlyphs">predicted to weaken the cryptic U2 donor site.</text>
<text x="3658" y="2198" textLength="448" lengthAdjust="spacingAndGlyphs">Given the incomplete nature of the splice</text>
<text x="3658" y="2230" textLength="516" lengthAdjust="spacingAndGlyphs">impact and lack of informative clinical data, this</text>
<text x="3658" y="2261" textLength="174" lengthAdjust="spacingAndGlyphs">variant is a VUS.</text>
</g>
<text class="b tr" x="3281" y="1906" font-size="26" textLength="115" lengthAdjust="spacingAndGlyphs">PSI: 22.1%</text>
<g fill="#cc0018">
<polygon points="3011,1958 3011,1924 3036,1924 3036,1920 3249,1916 3249,1947 3270,1947 3270,1958"/>
<polygon points="3438,1958 3438,1922 3459,1922 3459,1914 3604,1913 3604,1947 3628,1947 3628,1958"/>
<polygon points="3011,2041 3011,2009 3036,2009 3036,2005 3249,2002 3249,2041"/>
<polygon points="3438,2041 3438,2004 3459,2004 3459,2001 3604,2000 3604,2037 3628,2037 3628,2041"/>
</g>
<g fill="#ff8c00">
<polygon points="3011,2125 3011,2088 3036,2088 3036,2085 3249,2083 3249,2125"/>
<polygon points="3438,2125 3438,2085 3604,2083 3604,2122 3628,2122 3628,2125"/>
</g>
<g fill="none">
<path d="M3249,1958 C3300,1970 3390,1970 3438,1958" stroke="#cc0018" stroke-width="6"/>
<path d="M3270,1947 C3320,1920 3400,1906 3459,1915" stroke="#cc0018" stroke-width="3"/>
<path d="M3249,2041 C3300,2053 3390,2053 3438,2041" stroke="#cc0018" stroke-width="5"/>
<path d="M3249,2125 C3300,2139 3390,2139 3438,2125" stroke="#ff8c00" stroke-width="7"/>
</g>
<g font-size="8" text-anchor="middle">
<rect x="3332" y="1961" width="24" height="9" fill="#fff"/><text x="3344" y="1969">9509</text>
<text x="3365" y="1925">3495</text>
<rect x="3332" y="2044" width="24" height="9" fill="#fff"/><text x="3344" y="2052">7765</text>
<rect x="3330" y="2129" width="28" height="9" fill="#fff"/><text x="3344" y="2137">24723</text>
</g>
<g font-size="8" text-anchor="end">
<text x="3628" y="1911" class="tr">LZTR1 c.2232G&gt;A</text>
<text x="3628" y="1994" class="tr">LZTR1 c.2219+60A&gt;G;c.2232G&gt;A</text>
<text x="3628" y="2079" class="o">WT-Blood Control</text>
<text x="3004" y="1912">1918112</text><text x="3004" y="1922">1438584</text><text x="3004" y="1932">959056</text><text x="3004" y="1942">719292</text><text x="3004" y="1952">479528</text><text x="3004" y="1958">239764</text>
<text x="3004" y="1998">1918112</text><text x="3004" y="2008">1438584</text><text x="3004" y="2018">959056</text><text x="3004" y="2028">719292</text><text x="3004" y="2040">239764</text>
<text x="3004" y="2082">1918112</text><text x="3004" y="2092">1438584</text><text x="3004" y="2102">959056</text><text x="3004" y="2112">719292</text><text x="3004" y="2124">239764</text>
</g>
<g font-size="7" text-anchor="middle">
<text transform="translate(2960,1935) rotate(-90)">RPKM</text>
<text transform="translate(2960,2018) rotate(-90)">RPKM</text>
<text transform="translate(2960,2102) rotate(-90)">RPKM</text>
</g>
<g stroke="#000" stroke-width="1.2">
<line x1="3006" y1="1908" x2="3006" y2="1958"/><line x1="3006" y1="1994" x2="3006" y2="2041"/><line x1="3006" y1="2077" x2="3006" y2="2125"/>
<line x1="3002" y1="2155" x2="3628" y2="2155"/>
</g>
<g font-size="8" text-anchor="end">
<text transform="translate(3005,2158) rotate(-90)">21350226</text>
<text transform="translate(3050,2158) rotate(-90)">21350273</text>
<text transform="translate(3095,2158) rotate(-90)">21350301</text>
<text transform="translate(3139,2158) rotate(-90)">21350329</text>
<text transform="translate(3184,2158) rotate(-90)">21350357</text>
<text transform="translate(3229,2158) rotate(-90)">21350384</text>
<text transform="translate(3273,2158) rotate(-90)">21350461</text>
<text transform="translate(3318,2158) rotate(-90)">21350601</text>
<text transform="translate(3363,2158) rotate(-90)">21350741</text>
<text transform="translate(3407,2158) rotate(-90)">21350881</text>
<text transform="translate(3452,2158) rotate(-90)">21350991</text>
<text transform="translate(3497,2158) rotate(-90)">21351019</text>
<text transform="translate(3541,2158) rotate(-90)">21351047</text>
<text transform="translate(3586,2158) rotate(-90)">21351075</text>
<text transform="translate(3631,2158) rotate(-90)">21351156</text>
</g>
<text x="3315" y="2206" font-size="9" text-anchor="middle">Genomic coordinate (chr22), "+" strand</text>
<g font-size="30">
<text x="3072" y="2268" textLength="100" lengthAdjust="spacingAndGlyphs">Exon 18</text>
<text x="3487" y="2268" textLength="99" lengthAdjust="spacingAndGlyphs">Exon 19</text>
</g>
<line x1="3002" y1="2282" x2="3628" y2="2282" stroke="#000" stroke-width="1.5"/>
<rect x="3252" y="2276" width="187" height="12" fill="url(#cv2)"/>
<g fill="#000"><rect x="3012" y="2270" width="240" height="25"/><rect x="3439" y="2270" width="168" height="25"/></g>
<g font-size="27">
<text x="3455" y="2336" class="tb" textLength="180" lengthAdjust="spacingAndGlyphs">U2 cryptic donor</text>
<text x="3876" y="2306" class="tr" textLength="132" lengthAdjust="spacingAndGlyphs">U2 acceptor</text>
<text x="3846" y="2338" class="tr" textLength="197" lengthAdjust="spacingAndGlyphs">created by variant</text>
</g>
<text class="b" x="2964" y="2394" font-size="56" textLength="51" lengthAdjust="spacingAndGlyphs">B.</text>
<line x1="3544" y1="2342" x2="3544" y2="2392" stroke="#00aeef" stroke-width="1.5" marker-end="url(#ab)"/>
<line x1="3940" y1="2347" x2="3940" y2="2392" stroke="#e8141b" stroke-width="1.5" marker-end="url(#ar)"/>
<g fill="#d0d0d0" stroke="#44546a" stroke-width="2">
<rect x="3272" y="2395" width="272" height="54"/><rect x="3942" y="2395" width="65" height="54"/>
<rect x="3274" y="2466" width="72" height="53"/><rect x="3770" y="2466" width="236" height="53"/>
<rect x="3275" y="2589" width="71" height="54"/><rect x="3770" y="2589" width="237" height="54"/>
</g>
<g font-size="25">
<text x="3161" y="2432" class="tr" textLength="105" lengthAdjust="spacingAndGlyphs">c.2232G&gt;A</text>
<text x="3279" y="2432" textLength="727" lengthAdjust="spacingAndGlyphs">TCGCT gcatcct...<tspan font-size="19">(49 nt)</tspan>...ctcaggtggct...<tspan font-size="19">(509 nt)</tspan>...cccccag CTACTTGTTGC<tspan class="tr">A</tspan>GCCCCC</text>
<text x="3006" y="2498" textLength="260" lengthAdjust="spacingAndGlyphs"><tspan class="tb">c.2219+60A&gt;G; </tspan><tspan class="tr">c.2232G&gt;A</tspan></text>
<text x="3281" y="2498" textLength="725" lengthAdjust="spacingAndGlyphs">TCGCT gcatcct...<tspan font-size="19">(49 nt)</tspan>...ctc<tspan class="tb">g</tspan>ggtggct...<tspan font-size="19">(509 nt)</tspan>...cccccag CTACTTGTTGC<tspan class="tr">A</tspan>GCCCCC</text>
<text x="3198" y="2624" class="o" textLength="70" lengthAdjust="spacingAndGlyphs">control</text>
<text x="3282" y="2624" textLength="727" lengthAdjust="spacingAndGlyphs">TCGCT gcatcct...<tspan font-size="19">(49 nt)</tspan>...ctcaggtggct...<tspan font-size="19">(509 nt)</tspan>...cccccag CTACTTGTTGCGGCCCCCC</text>
</g>
<g font-size="27" class="tb">
<text x="3584" y="2544" class="tb" textLength="182" lengthAdjust="spacingAndGlyphs">Poly weakens U2</text>
<text x="3584" y="2576" class="tb" textLength="143" lengthAdjust="spacingAndGlyphs">cryptic donor</text>
</g>
<line x1="3573" y1="2542" x2="3548" y2="2510" stroke="#00aeef" stroke-width="1.5"/>
<g font-size="25">
<text x="3266" y="2668" textLength="76" lengthAdjust="spacingAndGlyphs">Exon 18</text>
<text x="3528" y="2666" textLength="90" lengthAdjust="spacingAndGlyphs">Intron 18</text>
<text x="3855" y="2666" textLength="77" lengthAdjust="spacingAndGlyphs">Exon 19</text>
</g>
<line x1="3349" y1="2705" x2="3349" y2="2664" stroke="#000" stroke-width="1.5" marker-end="url(#ak)"/>
<line x1="3769" y1="2693" x2="3769" y2="2652" stroke="#000" stroke-width="1.5" marker-end="url(#ak)"/>
<g font-size="27">
<text x="3272" y="2727" class="o" textLength="191" lengthAdjust="spacingAndGlyphs">Native U12 donor</text>
<text x="3773" y="2718" class="o" textLength="222" lengthAdjust="spacingAndGlyphs">Native U12 acceptor</text>
</g>

<!-- ===== NMD RESCUE ===== -->
<text class="b" x="487" y="2851" font-size="53" textLength="1046" lengthAdjust="spacingAndGlyphs">Nonsense-Mediated mRNA Decay Rescue</text>
<text class="b" x="94" y="2965" font-size="56" textLength="56" lengthAdjust="spacingAndGlyphs">A.</text>
<g font-size="30">
<text x="176" y="2913" textLength="456" lengthAdjust="spacingAndGlyphs">Alteration: <tspan class="i">APC</tspan> c.1042C&gt;T, p.R348*</text>
<text x="176" y="2952" textLength="435" lengthAdjust="spacingAndGlyphs">Transcript: <tspan class="i">APC</tspan> r.934_1074del141</text>
<text x="176" y="2990" textLength="489" lengthAdjust="spacingAndGlyphs">Predicted protein: p.V312_Q358del47</text>
</g>
<g fill="#cc0018">
<rect x="257" y="3081" width="25" height="55"/><rect x="454" y="3081" width="93" height="55"/><rect x="683" y="3083" width="24" height="53"/>
</g>
<g fill="#ff8c00">
<rect x="257" y="3192" width="25" height="52"/><rect x="454" y="3192" width="93" height="52"/><rect x="577" y="3220" width="16" height="24"/><rect x="683" y="3193" width="24" height="51"/>
</g>
<g fill="none" stroke="#cc0018">
<path d="M282,3083 C285,3030 440,3030 454,3083" stroke-width="5"/>
<path d="M282,3083 C292,3042 475,3042 482,3083" stroke-width="3"/>
<path d="M282,3083 C300,3052 505,3052 512,3083" stroke-width="3"/>
<path d="M547,3085 C555,3060 675,3060 683,3085" stroke-width="6"/>
<path d="M282,3136 C340,3152 620,3152 683,3136" stroke-width="2"/>
<rect x="444" y="3042" width="39" height="18" stroke-width="3"/>
</g>
<g fill="none" stroke="#ff8c00">
<path d="M282,3194 C285,3148 445,3148 454,3194" stroke-width="6"/>
<path d="M282,3194 C300,3165 530,3162 540,3194" stroke-width="3"/>
<path d="M547,3195 C555,3170 675,3170 683,3195" stroke-width="5"/>
<path d="M282,3244 C340,3260 620,3260 683,3244" stroke-width="2"/>
</g>
<g font-size="8" text-anchor="middle">
<text x="368" y="3046">4580</text><text x="463" y="3055">1483</text><text x="512" y="3063">2005</text><text x="616" y="3071">6719</text><text x="481" y="3148">331</text>
<text x="368" y="3160">7306</text><text x="512" y="3170">1679</text><text x="616" y="3180">7073</text><text x="481" y="3256">392</text>
<text x="736" y="3036" text-anchor="start" class="tr">APC c.1042C&gt;T</text>
<text x="730" y="3157" text-anchor="start" class="o">WT Blood Control</text>
</g>
<text class="b tr" x="502" y="3050" font-size="28" textLength="114" lengthAdjust="spacingAndGlyphs">PSI: 17.5%</text>
<g stroke="#000" stroke-width="1.2">
<line x1="150" y1="3076" x2="150" y2="3136"/><line x1="150" y1="3188" x2="150" y2="3244"/>
<line x1="147" y1="3280" x2="788" y2="3280"/>
</g>
<g font-size="7" text-anchor="end">
<text x="146" y="3080">7</text><text x="146" y="3092">5.2</text><text x="146" y="3104">3.5</text><text x="146" y="3116">2.6</text><text x="146" y="3128">1.8</text><text x="146" y="3136">0.9</text>
<text x="146" y="3192">7</text><text x="146" y="3204">5.2</text><text x="146" y="3216">3.5</text><text x="146" y="3228">2.6</text><text x="146" y="3238">1.8</text><text x="146" y="3245">0.9</text>
</g>
<g font-size="7" text-anchor="middle">
<text transform="translate(125,3106) rotate(-90)">RPKM (log10)</text>
<text transform="translate(125,3216) rotate(-90)">RPKM (log10)</text>
</g>
<g font-size="8" text-anchor="end">
<text transform="translate(150,3284) rotate(-90)">112149942</text>
<text transform="translate(196,3284) rotate(-90)">112149948</text>
<text transform="translate(242,3284) rotate(-90)">112150833</text>
<text transform="translate(288,3284) rotate(-90)">112151336</text>
<text transform="translate(333,3284) rotate(-90)">112152740</text>
<text transform="translate(379,3284) rotate(-90)">112153130</text>
<text transform="translate(425,3284) rotate(-90)">112154025</text>
<text transform="translate(471,3284) rotate(-90)">112154714</text>
<text transform="translate(517,3284) rotate(-90)">112154893</text>
<text transform="translate(562,3284) rotate(-90)">112155755</text>
<text transform="translate(608,3284) rotate(-90)">112156000</text>
<text transform="translate(654,3284) rotate(-90)">112156941</text>
<text transform="translate(700,3284) rotate(-90)">112157652</text>
<text transform="translate(746,3284) rotate(-90)">112158403</text>
<text transform="translate(791,3284) rotate(-90)">112158408</text>
</g>
<text x="467" y="3337" font-size="9" text-anchor="middle">Genomic coordinate (chr5), "-" strand</text>
<g font-size="30">
<text x="234" y="3419" textLength="87" lengthAdjust="spacingAndGlyphs">Exon 8</text>
<text x="458" y="3419" textLength="87" lengthAdjust="spacingAndGlyphs">Exon 9</text>
<text x="652" y="3419" textLength="103" lengthAdjust="spacingAndGlyphs">Exon 10</text>
</g>
<line x1="147" y1="3444" x2="788" y2="3444" stroke="#000" stroke-width="1.5"/>
<rect x="147" y="3438" width="641" height="12" fill="url(#cv3)"/>
<g fill="#000"><rect x="257" y="3428" width="25" height="30"/><rect x="454" y="3428" width="97" height="30"/><rect x="683" y="3428" width="24" height="30"/></g>
<g font-size="25">
<text x="85" y="3523" textLength="773" lengthAdjust="spacingAndGlyphs"><tspan class="b">A)</tspan> <tspan class="i">APC</tspan> c.1042C&gt;T, p.E348* has been identified in multiple probands</text>
<text x="85" y="3555" textLength="773" lengthAdjust="spacingAndGlyphs">without histories of polyposis or other APC-associated phenotypes. In</text>
<text x="85" y="3587" textLength="773" lengthAdjust="spacingAndGlyphs">addition to generating a premature termination codon (PTC), this</text>
<text x="85" y="3619" textLength="773" lengthAdjust="spacingAndGlyphs">variant was predicted to disrupt splicing through the strengthening of a</text>
<text x="85" y="3651" textLength="773" lengthAdjust="spacingAndGlyphs">cryptic acceptor site. DGT-RGT revealed the underrepresentation of the</text>
<text x="85" y="3683" textLength="773" lengthAdjust="spacingAndGlyphs">variant allele in normally spliced reads and the presence of an in-frame</text>
<text x="85" y="3715" textLength="773" lengthAdjust="spacingAndGlyphs">transcript that skipped the PTC in the patient sample (top red plot) that</text>
<text x="85" y="3747" textLength="773" lengthAdjust="spacingAndGlyphs">was absent in the control (bottom orange plot). Two naturally</text>
<text x="85" y="3779" textLength="773" lengthAdjust="spacingAndGlyphs">occurring, alternative splice isoforms are expressed at similar levels in</text>
<text x="85" y="3811" textLength="773" lengthAdjust="spacingAndGlyphs">both samples. As a result of the observed potential rescue mechanism,</text>
<text x="85" y="3843" textLength="773" lengthAdjust="spacingAndGlyphs">this alteration was deemed ineligible for PVS1 weight and is classified</text>
<text x="85" y="3875" textLength="399" lengthAdjust="spacingAndGlyphs">as a variant of uncertain significance.</text>
</g>
<text class="b" x="881" y="2937" font-size="56" textLength="52" lengthAdjust="spacingAndGlyphs">B.</text>
<g font-size="30">
<text x="949" y="2912" textLength="757" lengthAdjust="spacingAndGlyphs">Alterations: <tspan class="i">BRCA2</tspan> <tspan class="tr">c.6762delT</tspan>; <tspan class="tB">c.6816_6841+1534del1560</tspan></text>
<text x="949" y="2950" textLength="900" lengthAdjust="spacingAndGlyphs">Transcript: <tspan class="i">BRCA2</tspan>  r.6762delU; r.6816_6841del26 (27 deleted nt total)</text>
<text x="949" y="2988" textLength="839" lengthAdjust="spacingAndGlyphs">Predicted protein: p.F2254_V2280delinsLHVPKMRKWFCQIQELEK</text>
</g>
<g font-size="24">
<text x="923" y="3031" textLength="316" lengthAdjust="spacingAndGlyphs">Native Exon 10/<tspan class="tg">11</tspan> Sequence:</text>
<text x="1121" y="3065" class="tr" textLength="120" lengthAdjust="spacingAndGlyphs">c.6762delT</text>
<text x="953" y="3094" textLength="977" lengthAdjust="spacingAndGlyphs">ACA CAT TCT CTT <tspan class="tr">TTT</tspan> ACA TGT CCC GAA AAT GAG GAA ATG GTT TTG TCA AAT TCA AGA ATT</text>
<text x="955" y="3169" textLength="813" lengthAdjust="spacingAndGlyphs">GGA AAA AGA <tspan class="tB">AGA GGA GAG CCC CTT ATC TTA GTG G</tspan><tspan class="tg">GA GAA CCC TCA</tspan> . . . .</text>
<text x="1221" y="3222" class="tB" textLength="241" lengthAdjust="spacingAndGlyphs">c.6816_6841+1534del</text>
<text x="923" y="3258" textLength="554" lengthAdjust="spacingAndGlyphs">Exon 10/<tspan class="tg">11</tspan> Sequence with frameshift and deletion:</text>
<text x="953" y="3307" textLength="977" lengthAdjust="spacingAndGlyphs">ACA CAT TCT CTT <tspan class="tr">TTA CAT GTC CCG AAA ATG AGG AAA TGG TTT TGT CAA ATT CAA GAA TTG</tspan></text>
<text x="950" y="3379" textLength="343" lengthAdjust="spacingAndGlyphs"><tspan class="tr">GAA AAA </tspan><tspan class="tg">GGA GAA CCC TCA</tspan> . . .</text>
<text x="1041" y="3480" textLength="71" lengthAdjust="spacingAndGlyphs">c.6842</text>
<text x="1376" y="3427" textLength="454" lengthAdjust="spacingAndGlyphs">r.6752delU + 6816_6841del26 → in-frame</text>
<text x="1351" y="3523" textLength="307" lengthAdjust="spacingAndGlyphs">Novel intronic donor: gtacag</text>
<text x="1241" y="3600" textLength="240" lengthAdjust="spacingAndGlyphs">c.6816_6841+1534del</text>
</g>
<g stroke="#000" stroke-width="1.5">
<line x1="923" y1="3035" x2="1239" y2="3035"/>
<line x1="923" y1="3262" x2="1477" y2="3262"/>
</g>
<g stroke="#000" stroke-width="1.2" stroke-dasharray="2,3">
<line x1="955" y1="3126" x2="1933" y2="3126"/>
<line x1="955" y1="3200" x2="1933" y2="3200"/>
<line x1="955" y1="3337" x2="1933" y2="3337"/>
<line x1="955" y1="3411" x2="1283" y2="3411"/>
</g>
<g font-size="20">
<text x="972" y="3123" textLength="938" lengthAdjust="spacing">T H S L F T C P E N E E M V L S N S R I</text>
<text x="972" y="3197" textLength="725" lengthAdjust="spacing">G K R R G E P L I L V G E P S</text>
<text x="972" y="3334" textLength="938" lengthAdjust="spacing">T H S L <tspan class="tr">L H V P K M R K W F C Q I Q E L</tspan></text>
<text x="966" y="3408" textLength="278" lengthAdjust="spacing"><tspan class="tr">E K</tspan> G E P S</text>
</g>
<line x1="1080" y1="3457" x2="1080" y2="3421" stroke="#000" stroke-width="1.5" marker-end="url(#ak)"/>
<rect x="1086" y="3517" width="164" height="31" fill="#000"/>
<rect x="1790" y="3512" width="53" height="33" fill="#000"/>
<g stroke="#000" stroke-width="3" fill="none">
<line x1="1250" y1="3545" x2="1790" y2="3545"/>
<polyline points="1231,3510 1499,3435 1790,3509"/>
<polyline points="1234,3552 1234,3579 1499,3579 1499,3550"/>
<polyline points="1488,3564 1499,3549 1510,3564"/>
</g>
<g font-size="30">
<text x="1803" y="3504" textLength="101" lengthAdjust="spacingAndGlyphs">Exon 11</text>
<text x="1121" y="3579" textLength="101" lengthAdjust="spacingAndGlyphs">Exon 10</text>
</g>
<g font-size="25">
<text x="904" y="3651" textLength="1123" lengthAdjust="spacingAndGlyphs"><tspan class="b">B)</tspan> <tspan class="i">BRCA2</tspan> c.6762delT; c.6816_6841+1534del1560 are two coding exon 10 variants confirmed to be in <tspan class="i">cis</tspan></text>
<text x="904" y="3683" textLength="1123" lengthAdjust="spacingAndGlyphs">in two female probands. The first proband was unaffected in her 50s. The second proband was</text>
<text x="904" y="3715" textLength="1123" lengthAdjust="spacingAndGlyphs">unaffected in her 30s; her sister (30s) and mother (60s) were also reported to be positive and</text>
<text x="904" y="3747" textLength="1123" lengthAdjust="spacingAndGlyphs">unaffected. The deletion (blue text) removes the canonical donor site of exon 10 and creates a novel</text>
<text x="904" y="3779" textLength="1123" lengthAdjust="spacingAndGlyphs">intronic donor at the deletion breakpoint (c.6841+1535). The novel donor, in combination with</text>
<text x="904" y="3811" textLength="1123" lengthAdjust="spacingAndGlyphs">c.6762delT (red text), results in a transcript with a restored reading frame at c.6842 (green text). Based</text>
<text x="904" y="3843" textLength="1123" lengthAdjust="spacingAndGlyphs">on DGT-RGT, when <tspan class="i">in cis</tspan>, these alterations are not eligible for application of PVS1 and are classified as a</text>
<text x="904" y="3875" textLength="349" lengthAdjust="spacingAndGlyphs">variant of uncertain significance.</text>
</g>

<!-- ===== CRYPTIC PYRIMIDINE ===== -->
<text class="b" x="2673" y="2855" font-size="53" textLength="964" lengthAdjust="spacingAndGlyphs">Cryptic Pyrimidine Tract Modifications</text>
<text class="b" x="2202" y="2970" font-size="56" textLength="54" lengthAdjust="spacingAndGlyphs">A.</text>
<text class="b" x="3168" y="2970" font-size="56" textLength="50" lengthAdjust="spacingAndGlyphs">B.</text>
<g font-size="30">
<text x="2274" y="2934" textLength="649" lengthAdjust="spacingAndGlyphs">Alteration: <tspan class="i">NF1</tspan> c.5750-184_5750-178dupTTTCTTC</text>
<text x="2274" y="2973" textLength="645" lengthAdjust="spacingAndGlyphs">Transcript: <tspan class="i">NF1</tspan> r.574_5750ins5750-174_5750-108</text>
<text x="2274" y="3011" textLength="432" lengthAdjust="spacingAndGlyphs">Predicted protein: p.S1917Rfs*25</text>
<text x="3238" y="2934" textLength="496" lengthAdjust="spacingAndGlyphs">Alteration: <tspan class="i">ATM</tspan> c.3480G&gt;T (p.V1160V)</text>
<text x="3238" y="2973" textLength="442" lengthAdjust="spacingAndGlyphs">Transcript: <tspan class="i">ATM</tspan> r.3403_3494del92</text>
<text x="3238" y="3011" textLength="432" lengthAdjust="spacingAndGlyphs">Predicted protein: p.S1135Pfs*13</text>
</g>
<g fill="#cc0018">
<polygon points="2292,3139 2292,3090 2296,3082 2420,3080 2420,3100 2430,3112 2440,3120 2452,3106 2462,3102 2475,3112 2485,3125 2492,3139"/>
<polygon points="2892,3139 2895,3110 2912,3098 2925,3105 2930,3139"/>
<polygon points="2938,3139 2938,3080 2948,3077 3050,3075 3064,3080 3064,3139"/>
</g>
<g fill="#ff8c00">
<polygon points="2292,3272 2292,3218 2300,3213 2420,3212 2420,3272"/>
<rect x="2921" y="3237" width="7" height="35"/>
<polygon points="2935,3272 2938,3215 2960,3211 3064,3213 3064,3272"/>
</g>
<g fill="none" stroke-width="2">
<path d="M2420,3085 C2440,3055 2910,3055 2932,3090" stroke="#cc0018"/>
<path d="M2420,3139 C2440,3160 2910,3160 2932,3139" stroke="#cc0018"/>
<path d="M2420,3214 C2440,3192 2910,3192 2928,3237" stroke="#ff8c00"/>
<path d="M2420,3272 C2440,3292 2910,3292 2935,3272" stroke="#ff8c00"/>
</g>
<g font-size="8" text-anchor="middle">
<text x="2670" y="3062">265</text><text x="2681" y="3155">518</text><text x="2935" y="3072">370</text>
<text x="2670" y="3199">93</text><text x="2681" y="3287">585</text><text x="2922" y="3226">92</text>
<text x="2975" y="3056" class="tr">NF1 c.5750-184_5750-178dupTTTCTTC</text>
<text x="3025" y="3193" class="o">WT-Blood Control</text>
</g>
<text class="b tr" x="2609" y="3101" font-size="28" textLength="114" lengthAdjust="spacingAndGlyphs">PSI: 40.0%</text>
<text class="b o" x="2609" y="3237" font-size="28" textLength="114" lengthAdjust="spacingAndGlyphs">PSI: 16.1%</text>
<g fill="#cc0018">
<rect x="3294" y="3075" width="87" height="64"/><rect x="3584" y="3076" width="125" height="63"/><rect x="3727" y="3120" width="6" height="19"/><rect x="3826" y="3114" width="20" height="25"/><rect x="3933" y="3073" width="125" height="66"/>
</g>
<g fill="#ff8c00">
<rect x="3294" y="3207" width="87" height="65"/><rect x="3584" y="3208" width="125" height="64"/><rect x="3727" y="3247" width="6" height="25"/><rect x="3826" y="3254" width="6" height="18"/><rect x="3933" y="3206" width="125" height="66"/>
</g>
<g fill="none">
<path d="M3381,3078 C3390,3028 3575,3028 3584,3078" stroke="#cc0018" stroke-width="7"/>
<path d="M3381,3080 C3400,3053 3640,3048 3651,3078" stroke="#cc0018" stroke-width="3"/>
<path d="M3709,3139 C3740,3160 3900,3160 3933,3139" stroke="#cc0018" stroke-width="6"/>
<path d="M3381,3209 C3390,3185 3575,3185 3584,3209" stroke="#ff8c00" stroke-width="8"/>
<path d="M3709,3272 C3740,3292 3900,3292 3933,3272" stroke="#ff8c00" stroke-width="7"/>
</g>
<g font-size="8" text-anchor="middle">
<rect x="3468" y="3034" width="28" height="9" fill="#fff"/><text x="3482" y="3042">8441</text>
<rect x="3502" y="3055" width="28" height="9" fill="#fff"/><text x="3516" y="3063">3061</text>
<rect x="3806" y="3150" width="32" height="9" fill="#fff"/><text x="3822" y="3158">15024</text>
<rect x="3466" y="3187" width="32" height="9" fill="#fff"/><text x="3482" y="3195">17989</text>
<rect x="3806" y="3280" width="32" height="9" fill="#fff"/><text x="3822" y="3288">15948</text>
<text x="4040" y="3035" class="tr">ATM c.3480G&gt;T</text>
<text x="4040" y="3189" class="o">WT-Blood Control</text>
</g>
<text class="b tr" x="3422" y="3101" font-size="28" textLength="117" lengthAdjust="spacingAndGlyphs">PSI: 38.1%</text>
<text class="b o" x="3438" y="3237" font-size="28" textLength="83" lengthAdjust="spacingAndGlyphs">PSI: 0%</text>
<g stroke="#000" stroke-width="1.2">
<line x1="2292" y1="3076" x2="2292" y2="3139"/><line x1="2292" y1="3210" x2="2292" y2="3272"/>
<line x1="3290" y1="3073" x2="3290" y2="3139"/><line x1="3290" y1="3205" x2="3290" y2="3272"/>
<line x1="2292" y1="3319" x2="3064" y2="3319"/><line x1="3290" y1="3319" x2="4065" y2="3319"/>
<line x1="2932" y1="3141" x2="2737" y2="3419"/><line x1="2935" y1="3141" x2="3070" y2="3419"/>
<line x1="3651" y1="3073" x2="3577" y2="3422"/><line x1="3658" y1="3073" x2="3873" y2="3422"/>
</g>
<g font-size="7" text-anchor="end">
<text x="2288" y="3080">4</text><text x="2288" y="3094">3</text><text x="2288" y="3108">2</text><text x="2288" y="3122">1</text><text x="2288" y="3138">0.5</text>
<text x="2288" y="3214">4</text><text x="2288" y="3228">3</text><text x="2288" y="3242">2</text><text x="2288" y="3256">1</text><text x="2288" y="3270">0.5</text>
<text x="3286" y="3078">7</text><text x="3286" y="3090">6.1</text><text x="3286" y="3102">4.4</text><text x="3286" y="3114">2.6</text><text x="3286" y="3126">1.8</text><text x="3286" y="3138">0.3</text>
<text x="3286" y="3210">7</text><text x="3286" y="3222">6.1</text><text x="3286" y="3234">4.4</text><text x="3286" y="3246">2.6</text><text x="3286" y="3258">1.8</text><text x="3286" y="3270">0.3</text>
</g>
<g font-size="7" text-anchor="middle">
<text transform="translate(2268,3108) rotate(-90)">RPKM (log10)</text>
<text transform="translate(2268,3242) rotate(-90)">RPKM (log10)</text>
<text transform="translate(3266,3106) rotate(-90)">RPKM (log10)</text>
<text transform="translate(3266,3238) rotate(-90)">RPKM (log10)</text>
</g>
<g font-size="8" text-anchor="end">
<text transform="translate(2295,3323) rotate(-90)">29657250</text>
<text transform="translate(2350,3323) rotate(-90)">29657392</text>
<text transform="translate(2405,3323) rotate(-90)">29657484</text>
<text transform="translate(2460,3323) rotate(-90)">29657810</text>
<text transform="translate(2515,3323) rotate(-90)">29658278</text>
<text transform="translate(2570,3323) rotate(-90)">29658738</text>
<text transform="translate(2626,3323) rotate(-90)">29659198</text>
<text transform="translate(2681,3323) rotate(-90)">29659657</text>
<text transform="translate(2736,3323) rotate(-90)">29660117</text>
<text transform="translate(2791,3323) rotate(-90)">29660577</text>
<text transform="translate(2846,3323) rotate(-90)">29661037</text>
<text transform="translate(2901,3323) rotate(-90)">29661497</text>
<text transform="translate(2956,3323) rotate(-90)">29661876</text>
<text transform="translate(3011,3323) rotate(-90)">29661968</text>
<text transform="translate(3067,3323) rotate(-90)">29662105</text>
<text transform="translate(3293,3323) rotate(-90)">108150172</text>
<text transform="translate(3349,3323) rotate(-90)">108150284</text>
<text transform="translate(3404,3323) rotate(-90)">108150465</text>
<text transform="translate(3460,3323) rotate(-90)">108150845</text>
<text transform="translate(3515,3323) rotate(-90)">108151225</text>
<text transform="translate(3570,3323) rotate(-90)">108151610</text>
<text transform="translate(3626,3323) rotate(-90)">108151775</text>
<text transform="translate(3681,3323) rotate(-90)">108151851</text>
<text transform="translate(3737,3323) rotate(-90)">108152058</text>
<text transform="translate(3792,3323) rotate(-90)">108152442</text>
<text transform="translate(3847,3323) rotate(-90)">108152822</text>
<text transform="translate(3903,3323) rotate(-90)">108153202</text>
<text transform="translate(3958,3323) rotate(-90)">108153466</text>
<text transform="translate(4014,3323) rotate(-90)">108153543</text>
<text transform="translate(4069,3323) rotate(-90)">108153671</text>
</g>
<g font-size="9" text-anchor="middle">
<text x="2676" y="3382">Genomic coordinate (chr17), "+" strand</text>
<text x="3678" y="3389">Genomic coordinate (chr11), "+" strand</text>
</g>
<g font-size="30">
<text x="2430" y="3440" textLength="661" lengthAdjust="spacingAndGlyphs">Cryptic Acceptor Site ...ttac<tspan class="tr">tttcttc</tspan>tttcttcaagGACTG...</text>
<text x="3267" y="3440" textLength="633" lengthAdjust="spacingAndGlyphs">Cryptic Acceptor Site ...ctgt<tspan class="tr">t</tspan>gttttatcctgtagCCCTA...</text>
<text x="2303" y="3499" textLength="101" lengthAdjust="spacingAndGlyphs">Exon 38</text>
<text x="2954" y="3499" textLength="101" lengthAdjust="spacingAndGlyphs">Exon 39</text>
<text x="3290" y="3499" textLength="101" lengthAdjust="spacingAndGlyphs">Exon 22</text>
<text x="3594" y="3499" textLength="101" lengthAdjust="spacingAndGlyphs">Exon 23</text>
<text x="3939" y="3499" textLength="101" lengthAdjust="spacingAndGlyphs">Exon 24</text>
</g>
<g stroke="#000" stroke-width="1.5">
<line x1="2292" y1="3521" x2="3064" y2="3521"/>
<line x1="3290" y1="3521" x2="4065" y2="3521"/>
</g>
<rect x="2421" y="3515" width="522" height="12" fill="url(#cv4)"/>
<rect x="3381" y="3515" width="201" height="12" fill="url(#cv4)"/>
<rect x="3709" y="3515" width="224" height="12" fill="url(#cv4)"/>
<g fill="#000">
<rect x="2299" y="3503" width="122" height="37"/><rect x="2943" y="3503" width="116" height="37"/>
<rect x="3296" y="3503" width="85" height="37"/><rect x="3582" y="3503" width="127" height="37"/><rect x="3933" y="3503" width="122" height="37"/>
</g>
<g font-size="25">
<text x="2160" y="3613" textLength="1990" lengthAdjust="spacingAndGlyphs"><tspan class="b">A)</tspan> <tspan class="i">NF1</tspan> c.5750-184_5750-178dupTTTCTTC was identified in a child with multiple Café au Lait spots, suspected subcutaneous neurofibromas, axillary freckles and macrocephaly who was</text>
<text x="2160" y="3645" textLength="1990" lengthAdjust="spacingAndGlyphs">negative for alterations in <tspan class="i">NF1</tspan> and <tspan class="i">SPRED1</tspan> on previous DNA-only genetic testing. DGT-RGT revealed the presence of an NMD-prone transcript at higher levels in the case (40.0% PSI,</text>
<text x="2160" y="3677" textLength="1990" lengthAdjust="spacingAndGlyphs">top red plot) than in the control (16.1% PSI, bottom orange plot). The corresponding DNA change duplicates seven nucleotides (red text), likely improving the pyrimidine content of the</text>
<text x="2160" y="3709" textLength="1990" lengthAdjust="spacingAndGlyphs">poly-pyrimidine tract associated with a cryptic donor site. Given the substantial splice defect (ACMG PS3), the rarity of the variant (ACMG PM2) and corresponding clinical features of</text>
<text x="2160" y="3741" textLength="1990" lengthAdjust="spacingAndGlyphs">the patient (ACMG PS4), this variant was classified as a pathogenic mutation. <tspan class="b">B)</tspan> The <tspan class="i">ATM</tspan> c.3480G&gt;T (p.V1160V) was detected in two individuals, one with a personal history of</text>
<text x="2160" y="3773" textLength="1990" lengthAdjust="spacingAndGlyphs">endometrial cancer and a paternal family history of ovarian cancer; and the other with a personal history of ovarian cancer with no family history provided. RNA analysis identified the</text>
<text x="2160" y="3805" textLength="1990" lengthAdjust="spacingAndGlyphs">presence of an NMD-prone transcript at 30% PSI in the proband (top red plot) that was absent in the control (bottom orange plot). The variant altered a G to a T residue (red text)</text>
<text x="2160" y="3837" textLength="1990" lengthAdjust="spacingAndGlyphs">within the putative poly-pyrimidine tract of a cryptic acceptor site, activating that acceptor site in the proband. Although there is a substantial splice defect (ACMG PS3) and the variant</text>
<text x="2160" y="3869" textLength="1638" lengthAdjust="spacingAndGlyphs">is rare (ACMG PM2), due to the lack of additional evidence and the incomplete nature of the splice defect, it remains a variant of uncertain significance.</text>
</g>

<!-- ===== REFERENCES ===== -->
<text class="b" x="897" y="3999" font-size="46" textLength="275" lengthAdjust="spacingAndGlyphs">REFERENCES</text>
<g font-size="37">
<text x="94" y="4053" textLength="814" lengthAdjust="spacingAndGlyphs">1.Padgett RA. <tspan class="i">Trends Genet.</tspan> 2012 28(4):147-54</text>
<text x="94" y="4105" textLength="854" lengthAdjust="spacingAndGlyphs">2.Lin JH et al. <tspan class="i">Hum Mutat.</tspan> 2019 10;40:1856-1873</text>
<text x="94" y="4156" textLength="938" lengthAdjust="spacingAndGlyphs">3.Richards S et al. <tspan class="i">Genet Med.</tspan> 2015 May;17(5):405-24</text>
</g>

<!-- ===== METHODS ===== -->
<text class="b" x="3050" y="3983" font-size="46" textLength="229" lengthAdjust="spacingAndGlyphs">METHODS</text>
<rect x="2146" y="4024" width="8" height="10" fill="#000"/>
<rect x="2146" y="4108" width="8" height="10" fill="#000"/>
<g font-size="29">
<text x="2182" y="4041" textLength="1961" lengthAdjust="spacingAndGlyphs">RNA results are prospectively curated in cases with paired DGT-RGT and unique or challenging cases are marked for additional technical and</text>
<text x="2182" y="4083" textLength="202" lengthAdjust="spacingAndGlyphs">clinical review.</text>
<text x="2182" y="4125" textLength="1509" lengthAdjust="spacingAndGlyphs">Follow-up studies are performed as necessary and variant classification is based on ACMG-AMP guidelines³.</text>
</g>
</svg>
</body></html>
